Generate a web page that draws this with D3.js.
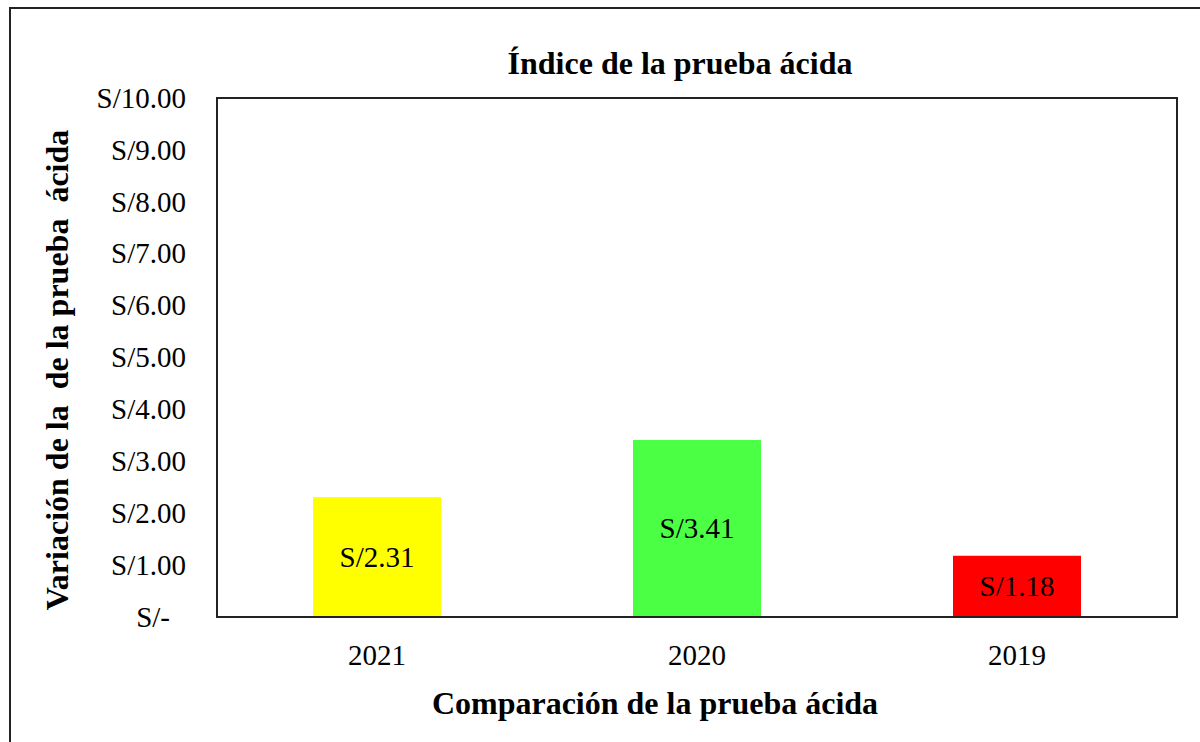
<!DOCTYPE html>
<html>
<head>
<meta charset="utf-8">
<script src="https://cdn.jsdelivr.net/npm/d3@7"></script>
<style>
  body { margin: 0; background: #fff; }
  svg text { font-family: 'Times New Roman', 'Liberation Serif', 'DejaVu Serif', serif !important; fill: #000; }
</style>
</head>
<body>
<div id="chart"></div>
<script>
var categories = ['2021', '2020', '2019'];
var values = [2.31, 3.41, 1.18];
var barColors = ['#FFFF00', '#4BFF45', '#FF0000'];
var yTickValues = [0, 1, 2, 3, 4, 5, 6, 7, 8, 9, 10];
var chartTitle = 'Índice de la prueba ácida';
var xTitle = 'Comparación de la prueba ácida';
var yTitle = 'Variación de la  de la prueba  ácida';

var width = 1200, height = 742;
var margin = { top: 98, right: 23, bottom: 125, left: 217 };
var innerW = width - margin.left - margin.right;
var innerH = height - margin.top - margin.bottom;

var svg = d3.select('#chart')
    .append('svg')
    .attr('width', width)
    .attr('height', height);

// outer chart frame (runs off the right and bottom edges)
svg.append('rect')
    .attr('x', 10)
    .attr('y', 8)
    .attr('width', 1300)
    .attr('height', 900)
    .attr('fill', 'none')
    .attr('stroke', '#222')
    .attr('stroke-width', 2);

var g = svg.append('g')
    .attr('transform', 'translate(' + margin.left + ', ' + margin.top + ')');

var x = d3.scaleBand()
    .domain(categories)
    .range([0, innerW])
    .paddingInner(0.6)
    .paddingOuter(0.3);

var y = d3.scaleLinear()
    .domain([0, 10])
    .range([innerH, 0]);

var fmt = function (d) { return d === 0 ? 'S/-' : 'S/' + d3.format('.2f')(d); };

// bars
g.selectAll('.bar')
    .data(values)
    .enter()
    .append('rect')
    .attr('class', 'bar')
    .attr('x', function (d, i) { return x(categories[i]); })
    .attr('y', function (d) { return y(d); })
    .attr('width', x.bandwidth())
    .attr('height', function (d) { return innerH - y(d); })
    .attr('fill', function (d, i) { return barColors[i]; });

// data labels, centred in each bar
g.selectAll('.label')
    .data(values)
    .enter()
    .append('text')
    .attr('class', 'label')
    .attr('x', function (d, i) { return x(categories[i]) + x.bandwidth() / 2; })
    .attr('y', function (d) { return (y(d) + innerH) / 2; })
    .attr('dy', '0.34em')
    .style('font-size', '29px')
    .style('text-anchor', 'middle')
    .text(fmt);

// y axis labels (no tick marks, no domain line)
var yAxis = g.append('g')
    .call(d3.axisLeft(y).tickValues(yTickValues).tickSize(0).tickPadding(31).tickFormat(fmt));
yAxis.select('.domain').remove();
yAxis.selectAll('text')
    .style('font-size', '29px')
    .attr('dy', '0.32em')
    .attr('dx', function (d) { return d === 0 ? -16 : 0; });

// x axis labels
var xAxis = g.append('g')
    .attr('transform', 'translate(0, ' + innerH + ')')
    .call(d3.axisBottom(x).tickSize(0).tickPadding(27));
xAxis.select('.domain').remove();
xAxis.selectAll('text')
    .style('font-size', '29px')
    .attr('dy', '0.71em');

// plot area frame
g.append('rect')
    .attr('x', 0)
    .attr('y', 0)
    .attr('width', innerW)
    .attr('height', innerH)
    .attr('fill', 'none')
    .attr('stroke', '#222')
    .attr('stroke-width', 2);

// titles
svg.append('text')
    .attr('x', 680)
    .attr('y', 74)
    .style('font-size', '32px')
    .style('font-weight', 'bold')
    .style('text-anchor', 'middle')
    .text(chartTitle);

svg.append('text')
    .attr('x', 655)
    .attr('y', 714)
    .style('font-size', '32px')
    .style('font-weight', 'bold')
    .style('text-anchor', 'middle')
    .text(xTitle);

svg.append('text')
    .attr('transform', 'translate(68, 370) rotate(-90)')
    .style('font-size', '32px')
    .style('font-weight', 'bold')
    .style('text-anchor', 'middle')
    .style('white-space', 'pre')
    .text(yTitle);
</script>
</body>
</html>
